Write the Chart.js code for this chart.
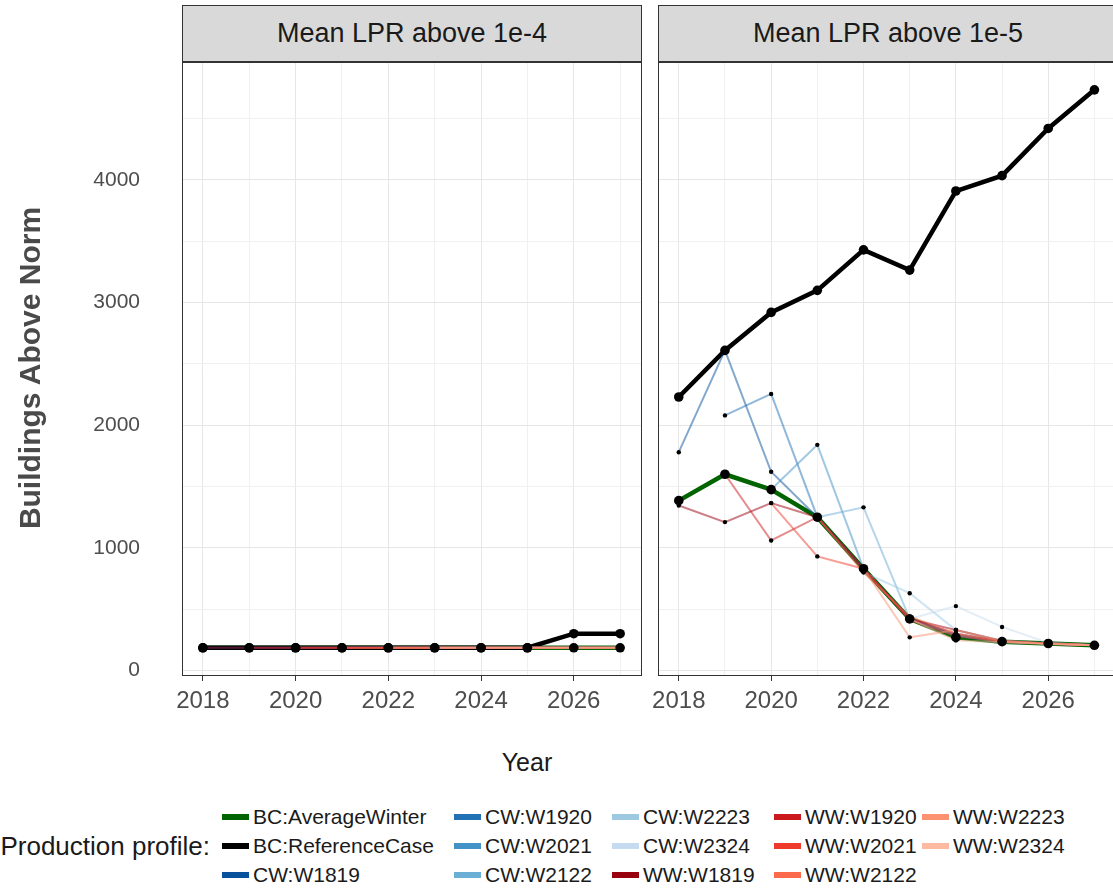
<!DOCTYPE html>
<html>
<head>
<meta charset="utf-8">
<script src="https://cdn.jsdelivr.net/npm/chart.js@4.4.1/dist/chart.umd.min.js"></script>
<style>
  body { margin: 0; width: 1113px; height: 888px; overflow: hidden; background: #fff; position: relative;
         font-family: 'Liberation Sans', Arial, sans-serif; }
  .abs { position: absolute; }
  .strip { position: absolute; top: 5px; height: 57px; box-sizing: border-box; background: #d9d9d9;
           border: 1px solid #333; text-align: center; line-height: 55px; font-size: 27px; color: #1a1a1a; }
  .ytitle { position: absolute; left: -170px; top: 348px; width: 400px; height: 40px; line-height: 40px;
            text-align: center; transform: rotate(-90deg); font-size: 30px; font-weight: bold; color: #4a4a4a; }
  .xtitle { position: absolute; left: 427px; width: 200px; top: 748px; text-align: center; font-size: 25px; color: #1a1a1a; }
  .legtitle { position: absolute; right: 903px; top: 831px; font-size: 26px; color: #1a1a1a; white-space: nowrap; }
  .key { position: absolute; width: 27px; height: 6px; }
  .klab { position: absolute; font-size: 21px; color: #1a1a1a; white-space: nowrap; line-height: 24px; }
</style>
</head>
<body>
<div class="strip" id="strip4" style="left:182px; width:460px;"></div>
<div class="strip" id="strip5" style="left:658px; width:460px;"></div>
<canvas id="lowChart" class="abs" style="left:0; top:42px;" width="650" height="700"></canvas>
<canvas id="highChart" class="abs" style="left:650px; top:42px;" width="470" height="700"></canvas>
<div class="ytitle">Buildings Above Norm</div>
<div class="xtitle">Year</div>
<div class="legtitle">Production profile:</div>
<div id="legend"></div>

<script>
const years = [2018, 2019, 2020, 2021, 2022, 2023, 2024, 2025, 2026, 2027];
const xLabelYears = [2018, 2020, 2022, 2024, 2026];
const yGrid = [0, 500, 1000, 1500, 2000, 2500, 3000, 3500, 4000, 4500];
const panelTitles = ['Mean LPR above 1e-4', 'Mean LPR above 1e-5'];

const profiles = [
  'BC:AverageWinter', 'BC:ReferenceCase',
  'CW:W1819', 'CW:W1920', 'CW:W2021', 'CW:W2122', 'CW:W2223', 'CW:W2324',
  'WW:W1819', 'WW:W1920', 'WW:W2021', 'WW:W2122', 'WW:W2223', 'WW:W2324'
];
const profileColors = [
  '#006400', '#000000',
  '#08519c', '#2171b5', '#4292c6', '#6baed6', '#9ecae1', '#c6dbef',
  '#99000d', '#cb181d', '#ef3b2c', '#fb6a4a', '#fc9272', '#fcbba1'
];

// Mean LPR above 1e-4
const low_avg    = [185, 185, 185, 185, 185, 185, 185, 185, 185, 185];
const low_ref    = [185, 185, 185, 185, 185, 185, 185, 185, 300, 300];
const low_cw1819 = [185, 185, 185, 185, 185, 185, 185, 185, 185, 185];
const low_cw1920 = [null, 185, 185, 185, 185, 185, 185, 185, 185, 185];
const low_cw2021 = [null, null, 185, 185, 185, 185, 185, 185, 185, 185];
const low_cw2122 = [null, null, null, 185, 185, 185, 185, 185, 185, 185];
const low_cw2223 = [null, null, null, null, 185, 185, 185, 185, 185, 185];
const low_cw2324 = [null, null, null, null, null, 185, 185, 185, 185, 185];
const low_ww1819 = [185, 185, 185, 185, 185, 185, 185, 185, 185, 185];
const low_ww1920 = [null, 185, 185, 185, 185, 185, 185, 185, 185, 185];
const low_ww2021 = [null, null, 185, 185, 185, 185, 185, 185, 185, 185];
const low_ww2122 = [null, null, null, 185, 185, 185, 185, 185, 185, 185];
const low_ww2223 = [null, null, null, null, 185, 185, 185, 185, 185, 185];
const low_ww2324 = [null, null, null, null, null, 185, 185, 185, 185, 185];

// Mean LPR above 1e-5
const high_avg    = [1385, 1600, 1475, 1250, 830, 420, 270, 235, 220, 205];
const high_ref    = [2230, 2610, 2920, 3100, 3430, 3265, 3910, 4035, 4420, 4735];
const high_cw1819 = [1780, 2610, 1620, 1250, 830, 420, 290, 235, 220, 205];
const high_cw1920 = [null, 2080, 2255, 1250, 830, 420, 280, 235, 220, 205];
const high_cw2021 = [null, null, 1475, 1840, 830, 420, 300, 240, 220, 205];
const high_cw2122 = [null, null, null, 1250, 1330, 420, 290, 235, 220, 205];
const high_cw2223 = [null, null, null, null, 800, 630, 330, 245, 220, 205];
const high_cw2324 = [null, null, null, null, null, 420, 525, 355, 225, 205];
const high_ww1819 = [1345, 1210, 1365, 1250, 830, 420, 330, 240, 220, 205];
const high_ww1920 = [null, 1600, 1060, 1250, 830, 420, 300, 235, 220, 205];
const high_ww2021 = [null, null, 1365, 930, 830, 410, 280, 235, 220, 205];
const high_ww2122 = [null, null, null, 1250, 800, 440, 300, 240, 220, 205];
const high_ww2223 = [null, null, null, null, 830, 270, 330, 240, 215, 205];
const high_ww2324 = [null, null, null, null, null, 420, 245, 230, 215, 205];

const lowValues = [low_avg, low_ref, low_cw1819, low_cw1920, low_cw2021, low_cw2122, low_cw2223, low_cw2324,
  low_ww1819, low_ww1920, low_ww2021, low_ww2122, low_ww2223, low_ww2324];
const highValues = [high_avg, high_ref, high_cw1819, high_cw1920, high_cw2021, high_cw2122, high_cw2223, high_cw2324,
  high_ww1819, high_ww1920, high_ww2021, high_ww2122, high_ww2223, high_ww2324];

Chart.defaults.font.family = "'Liberation Sans', Arial, sans-serif";
Chart.defaults.color = '#4d4d4d';

function withAlpha(hex, a) {
  const n = parseInt(hex.slice(1), 16);
  return 'rgba(' + (n >> 16) + ',' + ((n >> 8) & 255) + ',' + (n & 255) + ',' + a + ')';
}

function buildDatasets(values) {
  const lines = values.map((vals, i) => ({
    label: profiles[i],
    data: vals.map((v, j) => ({ x: years[j], y: v })),
    borderColor: i < 2 ? profileColors[i] : withAlpha(profileColors[i], 0.5),
    borderWidth: i < 2 ? 4.5 : 2,
    pointRadius: 0,
    tension: 0,
    order: 100 - i,
  }));
  const dots = values.map((vals, i) => ({
    label: profiles[i] + ' points',
    data: vals.map((v, j) => ({ x: years[j], y: v })),
    showLine: false,
    pointRadius: i < 2 ? 4.8 : 2.2,
    pointBackgroundColor: '#000',
    pointBorderWidth: 0,
    order: i < 2 ? 0 : 1,
  }));
  return lines.concat(dots);
}

const panelBox = {
  id: 'panelBox',
  afterDatasetsDraw(chart) {
    const a = chart.chartArea;
    const ctx = chart.ctx;
    ctx.save();
    ctx.strokeStyle = '#333';
    ctx.lineWidth = 1;
    ctx.strokeRect(Math.round(a.left) + 0.5, Math.round(a.top) + 0.5,
      Math.round(a.right - a.left), Math.round(a.bottom - a.top));
    ctx.restore();
  },
};

function makeChart(canvasId, values, showY, padding) {
  return new Chart(document.getElementById(canvasId), {
    type: 'line',
    data: { datasets: buildDatasets(values) },
    plugins: [panelBox],
    options: {
      responsive: false,
      animation: false,
      events: [],
      layout: { padding: padding },
      plugins: { legend: { display: false }, tooltip: { enabled: false } },
      scales: {
        x: {
          type: 'linear',
          min: 2017.55,
          max: 2027.45,
          afterBuildTicks: (axis) => { axis.ticks = years.map((v) => ({ value: v })); },
          afterFit: (axis) => { axis.height = 67; axis.paddingLeft = 0; axis.paddingRight = 0; },
          border: { display: false },
          grid: {
            color: (c) => (c.tick && c.tick.value % 2 === 0 ? '#e6e6e6' : '#f0f0f0'),
            tickColor: (c) => (c.tick && xLabelYears.includes(c.tick.value) ? '#333' : 'rgba(0,0,0,0)'),
            tickLength: 6,
            lineWidth: 1,
          },
          ticks: {
            font: { size: 24 },
            color: '#4d4d4d',
            padding: 6,
            maxRotation: 0,
            autoSkip: false,
            callback: (v) => (xLabelYears.includes(v) ? String(v) : ''),
          },
        },
        y: {
          min: -37,
          max: 4962,
          afterBuildTicks: (axis) => { axis.ticks = yGrid.map((v) => ({ value: v })); },
          afterFit: (axis) => { axis.width = showY ? 182 : 8; axis.paddingTop = 0; axis.paddingBottom = 0; },
          border: { display: false },
          grid: {
            color: (c) => (c.tick && c.tick.value % 1000 === 0 ? '#e6e6e6' : '#f0f0f0'),
            drawTicks: false,
          },
          ticks: {
            display: showY,
            font: { size: 21 },
            color: '#4d4d4d',
            padding: 42,
            autoSkip: false,
            callback: (v) => (v % 1000 === 0 ? String(v) : ''),
          },
        },
      },
    },
  });
}

makeChart('lowChart', lowValues, true, { top: 20, right: 9, left: 0, bottom: 0 });
makeChart('highChart', highValues, false, { top: 20, right: 4, left: 0, bottom: 0 });

document.getElementById('strip4').textContent = panelTitles[0];
document.getElementById('strip5').textContent = panelTitles[1];

// legend: 3 rows, filled column by column
const legendCols = [222, 454, 612, 774, 922];
const legendRows = [817, 846, 875];
const legend = document.getElementById('legend');
profiles.forEach((name, i) => {
  const col = Math.floor(i / 3);
  const row = i % 3;
  const key = document.createElement('div');
  key.className = 'key';
  key.style.left = legendCols[col] + 'px';
  key.style.top = (legendRows[row] - 3) + 'px';
  key.style.background = profileColors[i];
  legend.appendChild(key);
  const lab = document.createElement('div');
  lab.className = 'klab';
  lab.style.left = (legendCols[col] + 31) + 'px';
  lab.style.top = (legendRows[row] - 12) + 'px';
  lab.textContent = name;
  legend.appendChild(lab);
});
</script>
</body>
</html>
